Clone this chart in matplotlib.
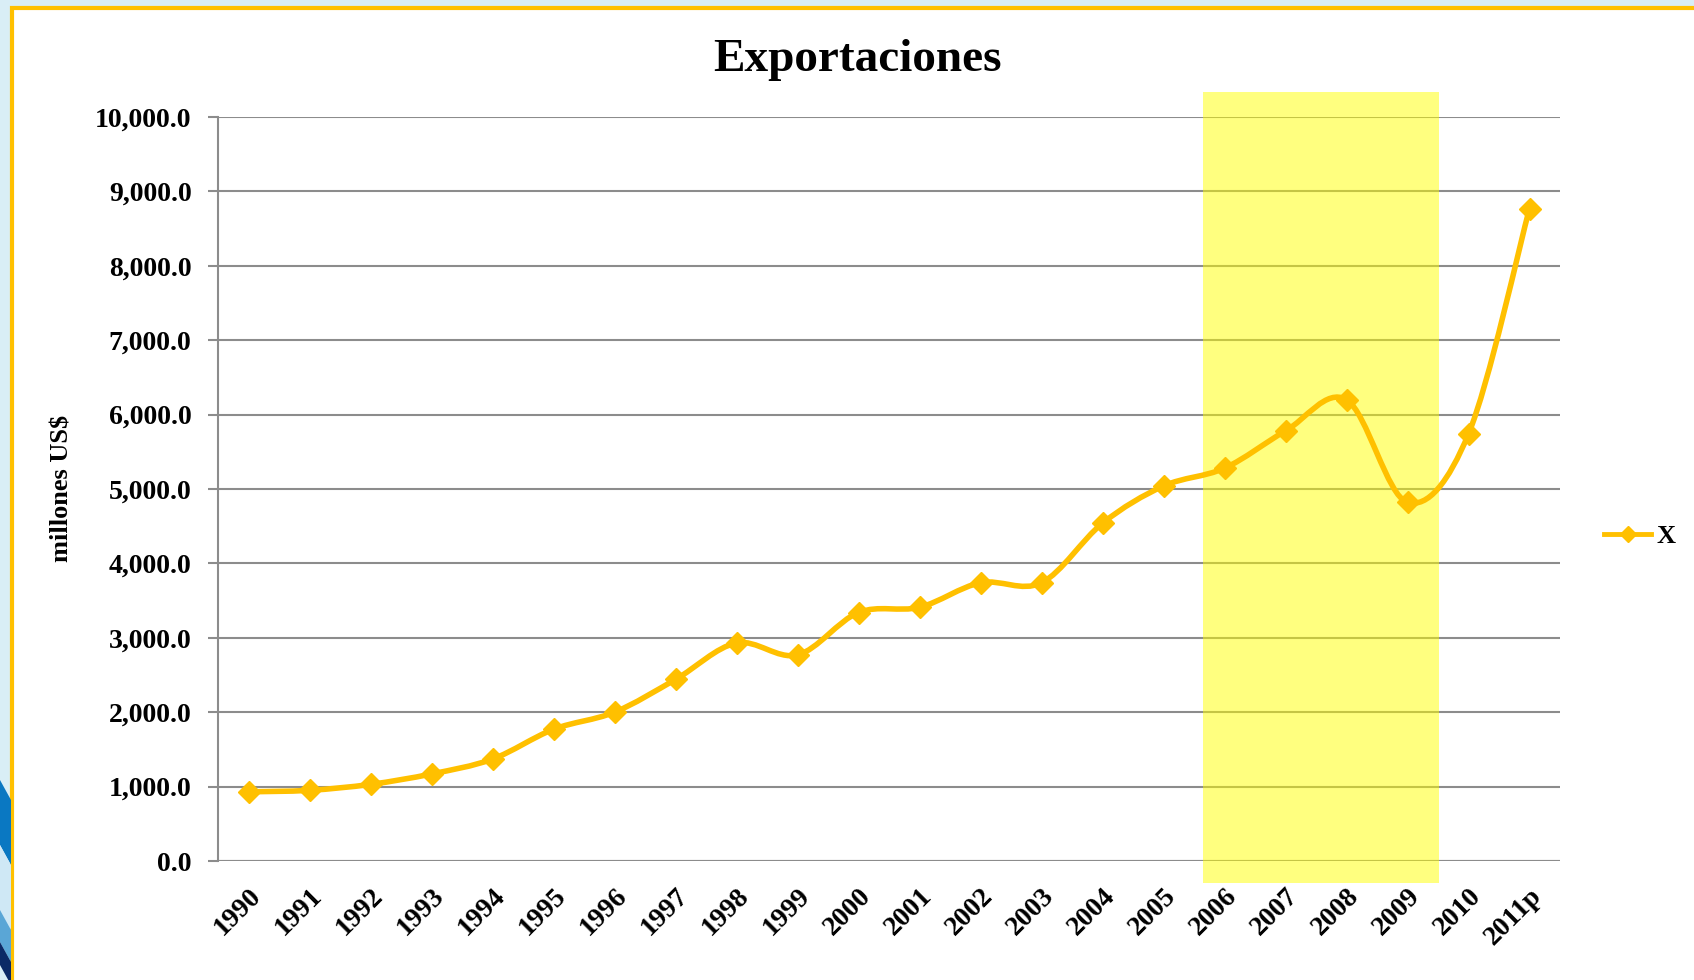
import matplotlib.pyplot as plt
import numpy as np
from matplotlib.path import Path
from matplotlib.patches import PathPatch, Rectangle, Polygon
from matplotlib.lines import Line2D
from matplotlib.ticker import FuncFormatter

plt.rcParams['font.family'] = ['Liberation Serif', 'DejaVu Serif']
plt.rcParams['font.weight'] = 'bold'

years = ['1990', '1991', '1992', '1993', '1994', '1995', '1996', '1997', '1998', '1999',
         '2000', '2001', '2002', '2003', '2004', '2005', '2006', '2007', '2008', '2009',
         '2010', '2011p']
exports = [930, 950, 1030, 1170, 1370, 1770, 2000, 2440, 2930, 2770,
           3340, 3410, 3740, 3740, 4540, 5040, 5280, 5780, 6200, 4820,
           5740, 8770]
# periodo resaltado (2006-2009)
hl_start, hl_end = '2006', '2009'

gold = '#FFC000'

fig = plt.figure(figsize=(16.94, 9.80), dpi=100, facecolor='#d9eef6')

# marco blanco con borde amarillo
fig.patches.append(Rectangle((12/1694, -0.01), 1.0, 1 - 8/980 + 0.01, transform=fig.transFigure,
                             facecolor='white', edgecolor=gold, linewidth=3, zorder=-5))
# franjas azules a la izquierda
for (y0, y1, c) in [(800, 865, '#0a78c2'), (865, 930, '#cfe8f5'), (930, 962, '#5aa6d6'), (962, 985, '#0b2a66')]:
    pts = [(0, 1 - (y0 - 20)/980), (11/1694, 1 - y0/980), (11/1694, 1 - y1/980), (0, 1 - (y1 - 20)/980)]
    fig.patches.append(Polygon(pts, closed=True, transform=fig.transFigure,
                               facecolor=c, edgecolor='none', zorder=-5))

ax = fig.add_axes([218/1694, 1 - 861/980, (1560 - 218)/1694, (861 - 117)/980])
ax.set_zorder(2)
ax.set_facecolor('none')

x = np.arange(len(years))
y = np.array(exports, dtype=float)

# linea suavizada (Catmull-Rom como Excel) con curvas Bezier
verts = [(x[0], y[0])]
codes = [Path.MOVETO]
n = len(x)
for i in range(n - 1):
    p0 = np.array([x[max(i - 1, 0)], y[max(i - 1, 0)]])
    p1 = np.array([x[i], y[i]])
    p2 = np.array([x[i + 1], y[i + 1]])
    p3 = np.array([x[min(i + 2, n - 1)], y[min(i + 2, n - 1)]])
    c1 = p1 + (p2 - p0) / 6
    c2 = p2 - (p3 - p1) / 6
    verts += [tuple(c1), tuple(c2), tuple(p2)]
    codes += [Path.CURVE4] * 3
ax.add_patch(PathPatch(Path(verts, codes), facecolor='none', edgecolor=gold,
                       linewidth=4, zorder=4, capstyle='round'))
ax.plot(x, y, linestyle='none', marker='D', markersize=11, color=gold, zorder=5)

i0, i1 = years.index(hl_start), years.index(hl_end)
ax.add_patch(Rectangle((i0 - 0.35, -300), (i1 - i0) + 0.87, 10640, facecolor='#FFFF00',
                       alpha=0.5, edgecolor='none', zorder=3, clip_on=False))

ax.set_xlim(-0.5, n - 0.5)
ax.set_ylim(0, 10000)
ax.set_yticks(np.arange(0, 10001, 1000))
ax.yaxis.set_major_formatter(FuncFormatter(lambda v, p: f'{v:,.1f}'))
ax.set_xticks(x)
ax.set_xticklabels(years, rotation=45, ha='right', rotation_mode='anchor')
ax.grid(axis='y', color='#8c8c8c', linewidth=1.5, zorder=1)
ax.set_axisbelow(True)
for s in ['top', 'right', 'bottom']:
    ax.spines[s].set_visible(False)
ax.spines['left'].set_color('#8c8c8c')
ax.spines['left'].set_linewidth(1.5)
ax.tick_params(axis='y', length=7, color='#8c8c8c', width=1.5, labelsize=20, pad=12)
ax.tick_params(axis='x', length=0, labelsize=20, pad=16)
ax.axhline(0, color='#8c8c8c', linewidth=1.5, zorder=2)

fig.text(62/1694, 1 - 488/980, 'millones US$', rotation=90, ha='center', va='center',
         fontsize=19, fontweight='bold')
fig.text(857/1694, 1 - 60/980, 'Exportaciones', ha='center', va='center',
         fontsize=34, fontweight='bold')

handle = Line2D([], [], color=gold, linewidth=3.5, marker='D', markersize=8)
fig.legend([handle], ['X'], loc='center left', bbox_to_anchor=(1580/1694, 1 - 536/980),
           frameon=False, fontsize=19, handlelength=1.8, handletextpad=0.2)

fig.savefig('out.png', dpi=100, facecolor=fig.get_facecolor())
